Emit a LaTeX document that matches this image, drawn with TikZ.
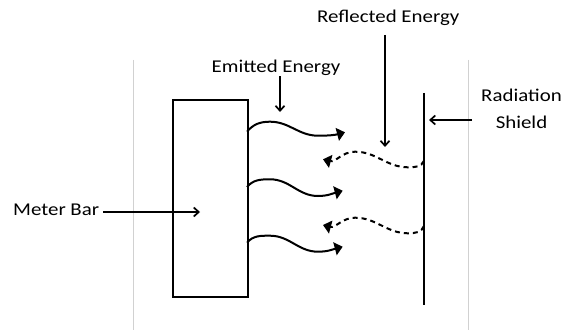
\documentclass[tikz,border=0pt]{standalone}
\usepackage{fontspec}
\setmainfont{Carlito}[FakeStretch=1.16]
\usetikzlibrary{arrows.meta}
\begin{document}
\begin{tikzpicture}[x=1pt,y=1pt,
  lbl/.style={inner sep=0pt, font=\fontsize{18}{27}\selectfont},
  pointer/.style={line width=1.7pt, -{Straight Barb[length=5pt,width=9pt]}},
  wave/.style={line width=2pt, -{Triangle[length=8pt,width=13pt]}},
  echo/.style={wave, dash pattern=on 5pt off 4pt},
  frame/.style={draw=black!18, line width=0.8pt}]
\useasboundingbox (0,0) rectangle (562,330);

% light frame lines at the sides
\draw[frame] (133,270) -- (133,0);
\draw[frame] (468,270) -- (468,0);

% meter bar and radiation shield
\node[draw, line width=2.4pt, minimum width=75pt, minimum height=197pt, inner sep=0pt]
  (bar) at (210.5,131.5) {};
\coordinate (shT) at (424,237);
\coordinate (shB) at (424,25);
\draw[line width=2.4pt] (shT) -- (shB);

% labels
\node[lbl, anchor=base west] (mb) at (13,115) {Meter Bar};
\node[lbl, anchor=base] (em) at (276,257) {Emitted Energy};
\node[lbl, anchor=base west] (re) at (317,307) {Reflected Energy};
\node[lbl, anchor=base, align=center] (rs) at (521.5,202) {Radiation\\Shield};

% label pointers
\coordinate (mbT) at (200,118);
\coordinate (emT) at (280,218);
\coordinate (reT) at (385,183);
\coordinate (rsT) at (429,210);
\draw[pointer] ([xshift=4pt]mb.east |- mbT) -- (mbT);
\draw[pointer] (em.south -| emT) -- (emT);
\draw[pointer] (reT |- 0,295) -- (reT);
\draw[pointer] ([xshift=-9pt]rs.west |- rsT) -- (rsT);

% emitted energy waves
\coordinate (e1) at (247,198.3);
\coordinate (e2) at (247,143);
\coordinate (e3) at (247,87.3);
\draw[wave] (e1) to[out=50,in=180] (270,208.3) to[out=0,in=180] (318,194.3) to[out=0,in=195] (345,197.7);
\draw[wave] (e2) to[out=50,in=180] (270,150.7) to[out=0,in=180] (318,134) to[out=0,in=195] (342.7,139.3);
\draw[wave] (e3) to[out=50,in=180] (270,94.3) to[out=0,in=180] (318,78.3) to[out=0,in=195] (342.7,83.3);

% reflected energy waves
\coordinate (r1) at (424,169.3);
\coordinate (r2) at (424,104);
\draw[echo] (r1) to[out=250,in=0] (408,162.7) to[out=180,in=0] (355,178.3) to[out=180,in=-15] (323,170.7);
\draw[echo] (r2) to[out=250,in=0] (408,96.7) to[out=180,in=0] (355,112.3) to[out=180,in=-15] (323,105);
\end{tikzpicture}
\end{document}
